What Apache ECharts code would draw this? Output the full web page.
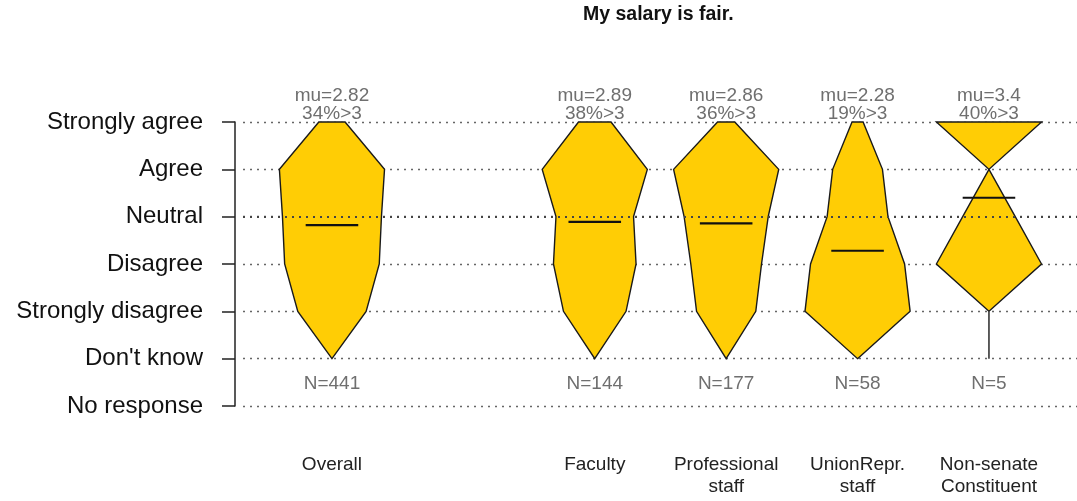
<!DOCTYPE html>
<html>
<head>
<meta charset="utf-8">
<script src="https://cdn.jsdelivr.net/npm/echarts@6/dist/echarts.min.js"></script>
<style>
  html, body { margin: 0; padding: 0; background: #fff; }
  #main { width: 1077px; height: 501px; }
</style>
</head>
<body>
<div id="main"></div>
<script>
// answer levels, bottom to top (value -1 .. 5)
const levels = ["No response", "Don't know", "Strongly disagree", "Disagree", "Neutral", "Agree", "Strongly agree"];
const groups = ["Overall", "Faculty", "Professional\nstaff", "UnionRepr.\nstaff", "Non-senate\nConstituent"];
const groupPos = [1, 3, 4, 5, 6];
// counts for Don't know, Strongly disagree, Disagree, Neutral, Agree, Strongly agree
const overall = [0, 78, 108, 113, 120, 30];
const faculty = [0, 25, 33, 31, 42, 13];
const professional = [0, 31, 37, 44, 55, 9];
const unionRepr = [0, 19, 17, 11, 9, 2];
const nonSenate = [0, 0, 2, 1, 0, 2];
const counts = [overall, faculty, professional, unionRepr, nonSenate];
const means = [2.82, 2.89, 2.86, 2.28, 3.4];
const pctAbove = [34, 38, 36, 19, 40];
const totals = [441, 144, 177, 58, 5];

const FILL = "#FFCD05";
const GREY = "#6f6f6f";
const FONT = "'Liberation Sans', Arial, sans-serif";

function renderItem(params, api) {
  const i = api.value(0);
  const x = groupPos[i];
  const c = counts[i];
  const mx = Math.max.apply(null, c);
  const right = [], left = [];
  for (let k = 0; k < c.length; k++) {
    const w = 0.4 * c[k] / mx;
    right.push(api.coord([x + w, k]));
    left.unshift(api.coord([x - w, k]));
  }
  const m1 = api.coord([x - 0.2, means[i]]);
  const m2 = api.coord([x + 0.2, means[i]]);
  const top = api.coord([x, 5]);
  const mid = api.coord([x, -0.5]);
  const bot = api.coord([x, -1]);
  return {
    type: "group",
    children: [
      {
        type: "polygon",
        shape: { points: right.concat(left) },
        style: { fill: FILL, stroke: "#1a1a1a", lineWidth: 1.4 }
      },
      {
        type: "line",
        shape: { x1: m1[0], y1: m1[1], x2: m2[0], y2: m2[1] },
        style: { stroke: "#111", lineWidth: 2.2 }
      },
      {
        type: "text",
        style: {
          text: "mu=" + means[i] + "\n" + pctAbove[i] + "%>3",
          x: top[0], y: top[1] + 1, align: "center", verticalAlign: "bottom",
          fontSize: 19, lineHeight: 18, fill: GREY, fontFamily: FONT
        }
      },
      {
        type: "text",
        style: {
          text: "N=" + totals[i],
          x: mid[0], y: mid[1] + 1, align: "center", verticalAlign: "middle",
          fontSize: 19, fill: GREY, fontFamily: FONT
        }
      },
      {
        type: "text",
        style: {
          text: groups[i],
          x: bot[0], y: bot[1] + 48, align: "center", verticalAlign: "top",
          fontSize: 19, lineHeight: 22, fill: "#222", fontFamily: FONT
        }
      }
    ]
  };
}

const chart = echarts.init(document.getElementById("main"), null, { renderer: "canvas" });
chart.setOption({
  animation: false,
  backgroundColor: "#fff",
  title: {
    text: "My salary is fair.",
    left: 583, top: 5, padding: 0,
    textStyle: { fontSize: 19.5, fontWeight: "bold", color: "#111", fontFamily: FONT }
  },
  grid: { left: 243, right: 0, top: 122, bottom: 95 },
  xAxis: {
    type: "value", min: 0.323, max: 6.67,
    show: false
  },
  yAxis: {
    type: "value", min: -1, max: 5, interval: 1, offset: 8,
    axisLine: { show: true, lineStyle: { color: "#222", width: 1.5 } },
    axisTick: { show: true, length: 13, lineStyle: { color: "#222", width: 1.5 } },
    axisLabel: {
      margin: 32, fontSize: 24, color: "#111", fontFamily: FONT,
      padding: [3, 0, 0, 0],
      formatter: function (v) { return levels[v + 1]; }
    },
    splitLine: { show: true, lineStyle: { color: "#666", type: [2, 5], width: 1.4 } }
  },
  series: [{
    type: "custom",
    renderItem: renderItem,
    data: groups.map(function (g, i) { return [i]; }),
    markLine: {
      silent: true, symbol: "none", label: { show: false },
      lineStyle: { color: "#444", type: [2, 5], width: 2 },
      data: [{ yAxis: 3 }]
    }
  }]
});
</script>
</body>
</html>
